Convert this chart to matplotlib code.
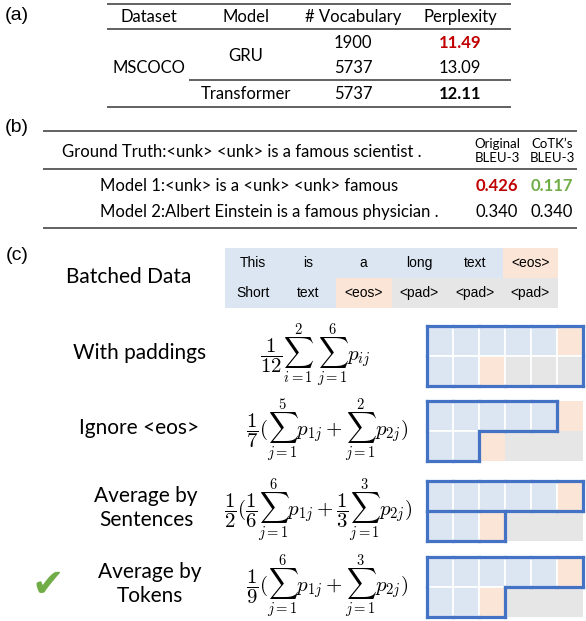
import matplotlib.pyplot as plt
from matplotlib.patches import Rectangle

plt.rcParams['font.family'] = ['Lato', 'DejaVu Sans']
plt.rcParams['mathtext.fontset'] = 'cm'

# (a) vocabulary / perplexity table
header_a = ['Dataset', 'Model', '# Vocabulary', 'Perplexity']
dataset_a = 'MSCOCO'
models_a = ['GRU', 'Transformer']
vocab = [1900, 5737, 5737]
perplexity = [11.49, 13.09, 12.11]

# (b) BLEU example
ground_truth = 'Ground Truth:<unk> <unk> is a famous scientist .'
model_outputs = ['Model 1:<unk> is a <unk> <unk> famous',
                 'Model 2:Albert Einstein is a famous physician .']
bleu_headers = ['Original\nBLEU-3', 'CoTK\u2019s\nBLEU-3']
bleu_original = [0.426, 0.340]
bleu_cotk = [0.117, 0.340]

# (c) batched data and the ways to average
batch_tokens = [['This', 'is', 'a', 'long', 'text', '<eos>'],
                ['Short', 'text', '<eos>', '<pad>', '<pad>', '<pad>']]
method_names = ['With paddings', 'Ignore <eos>', 'Average by\nSentences', 'Average by\nTokens']
method_formulas = [
    r'$\dfrac{1}{12}\sum_{i=1}^{2}\;\sum_{j=1}^{6}p_{ij}$',
    r'$\dfrac{1}{7}(\sum_{j=1}^{5}p_{1j}+\sum_{j=1}^{2}p_{2j})$',
    r'$\dfrac{1}{2}(\dfrac{1}{6}\sum_{j=1}^{6}p_{1j}+\dfrac{1}{3}\sum_{j=1}^{3}p_{2j})$',
    r'$\dfrac{1}{9}(\sum_{j=1}^{6}p_{1j}+\sum_{j=1}^{3}p_{2j})$',
]
# which tokens each method counts (0 = ignored, same number = same average)
method_groups = [
    [[1, 1, 1, 1, 1, 1], [1, 1, 1, 1, 1, 1]],
    [[1, 1, 1, 1, 1, 0], [1, 1, 0, 0, 0, 0]],
    [[1, 1, 1, 1, 1, 1], [2, 2, 2, 0, 0, 0]],
    [[1, 1, 1, 1, 1, 1], [1, 1, 1, 0, 0, 0]],
]
chosen_method = 3

token_colors = {'word': '#DCE6F2', '<eos>': '#FBE5D6', '<pad>': '#E6E6E6'}
outline_color = '#4472C4'
rule_color = '#555555'


def kind(tok):
    return tok if tok in ('<eos>', '<pad>') else 'word'


fig = plt.figure(figsize=(5.86, 6.21), dpi=100)
ax = fig.add_axes([0, 0, 1, 1])
ax.set_xlim(0, 586)
ax.set_ylim(621, 0)
ax.axis('off')

for lab, y in zip(['(a)', '(b)', '(c)'], [15, 128, 255]):
    ax.text(17, y, lab, fontsize=14, family='Liberation Sans', ha='center', va='center')

# ---- table (a)
fs = 12
ax.hlines([4, 29, 107], 107, 511, color=rule_color, lw=1.3)
ax.hlines(80, 189, 511, color=rule_color, lw=1.3)
col_x = [149, 246, 353, 460]
for x, h in zip(col_x, header_a):
    ax.text(x, 17, h, fontsize=fs, ha='center', va='center')
ax.text(col_x[0], 68, dataset_a, fontsize=fs, ha='center', va='center')
ax.text(col_x[1], 56, models_a[0], fontsize=fs, ha='center', va='center')
ax.text(col_x[1], 94, models_a[1], fontsize=fs, ha='center', va='center')
perp_style = [('#C00000', 'bold'), ('black', 'normal'), ('black', 'bold')]
for y, v, p, (c, w) in zip([43, 68, 94], vocab, perplexity, perp_style):
    ax.text(col_x[2], y, str(v), fontsize=fs, ha='center', va='center')
    ax.text(col_x[3], y, f'{p:.2f}', fontsize=fs, ha='center', va='center',
            color=c, fontweight=w)

# ---- table (b)
ax.hlines([131, 169, 228], 43, 577, color=rule_color, lw=1.3)
ax.text(62, 152, ground_truth, fontsize=fs, ha='left', va='center')
bleu_x = [497, 552]
for x, h in zip(bleu_x, bleu_headers):
    ax.text(x, 151, h, fontsize=9.5, ha='center', va='center', linespacing=1.2)
out_y = [186, 212]
bleu_style = [(('#C00000', 'bold'), ('#70AD47', 'bold')),
              (('black', 'normal'), ('black', 'normal'))]
for y, txt, bo, bc, st in zip(out_y, model_outputs, bleu_original, bleu_cotk, bleu_style):
    ax.text(100, y, txt, fontsize=fs, ha='left', va='center')
    for x, v, (c, w) in zip(bleu_x, [bo, bc], st):
        ax.text(x, y, f'{v:.3f}', fontsize=fs, ha='center', va='center',
                color=c, fontweight=w)

# ---- (c) batched data
bx0, bw, by0, bh = 225, 55.5, 248, 30
ax.text(129, 277, 'Batched Data', fontsize=15, ha='center', va='center')
for r, row in enumerate(batch_tokens):
    for c, tok in enumerate(row):
        ax.add_patch(Rectangle((bx0 + c * bw, by0 + r * bh), bw, bh,
                               facecolor=token_colors[kind(tok)], edgecolor='none'))
        ax.text(bx0 + (c + 0.5) * bw, by0 + (r + 0.5) * bh, tok, fontsize=10,
                family='Liberation Sans', ha='center', va='center')

# ---- (c) methods
gx0, gw, gh = 427, 26, 30
grid_tops = [326, 401, 481, 557]
name_x = [140, 139, 146, 150]
formula_x = [260, 246, 224, 246]
for m, (name, formula, groups) in enumerate(zip(method_names, method_formulas, method_groups)):
    top = grid_tops[m]
    yc = top + gh
    ax.text(name_x[m], yc - 3, name, fontsize=15, ha='center', va='center', linespacing=1.3)
    ax.text(formula_x[m], yc, formula, fontsize=15, ha='left', va='center')
    for r, row in enumerate(batch_tokens):
        for c, tok in enumerate(row):
            inside = groups[r][c] != 0
            ax.add_patch(Rectangle((gx0 + c * gw, top + r * gh), gw, gh,
                                   facecolor=token_colors[kind(tok)],
                                   edgecolor='white' if inside else 'none', lw=1.2))

    def g(r, c):
        if 0 <= r < 2 and 0 <= c < 6:
            return groups[r][c]
        return 0

    for r in range(3):
        for c in range(6):
            a, b = g(r - 1, c), g(r, c)
            if a != b:
                ax.plot([gx0 + c * gw, gx0 + (c + 1) * gw], [top + r * gh] * 2,
                        color=outline_color, lw=2.3, solid_capstyle='projecting')
    for r in range(2):
        for c in range(7):
            a, b = g(r, c - 1), g(r, c)
            if a != b:
                ax.plot([gx0 + c * gw] * 2, [top + r * gh, top + (r + 1) * gh],
                        color=outline_color, lw=2.3, solid_capstyle='projecting')
    if m == chosen_method:
        ax.text(48, yc - 2, '\u2714', color='#70AD47', fontsize=28,
                family='DejaVu Sans', ha='center', va='center')

fig.savefig('out.png', dpi=100)
